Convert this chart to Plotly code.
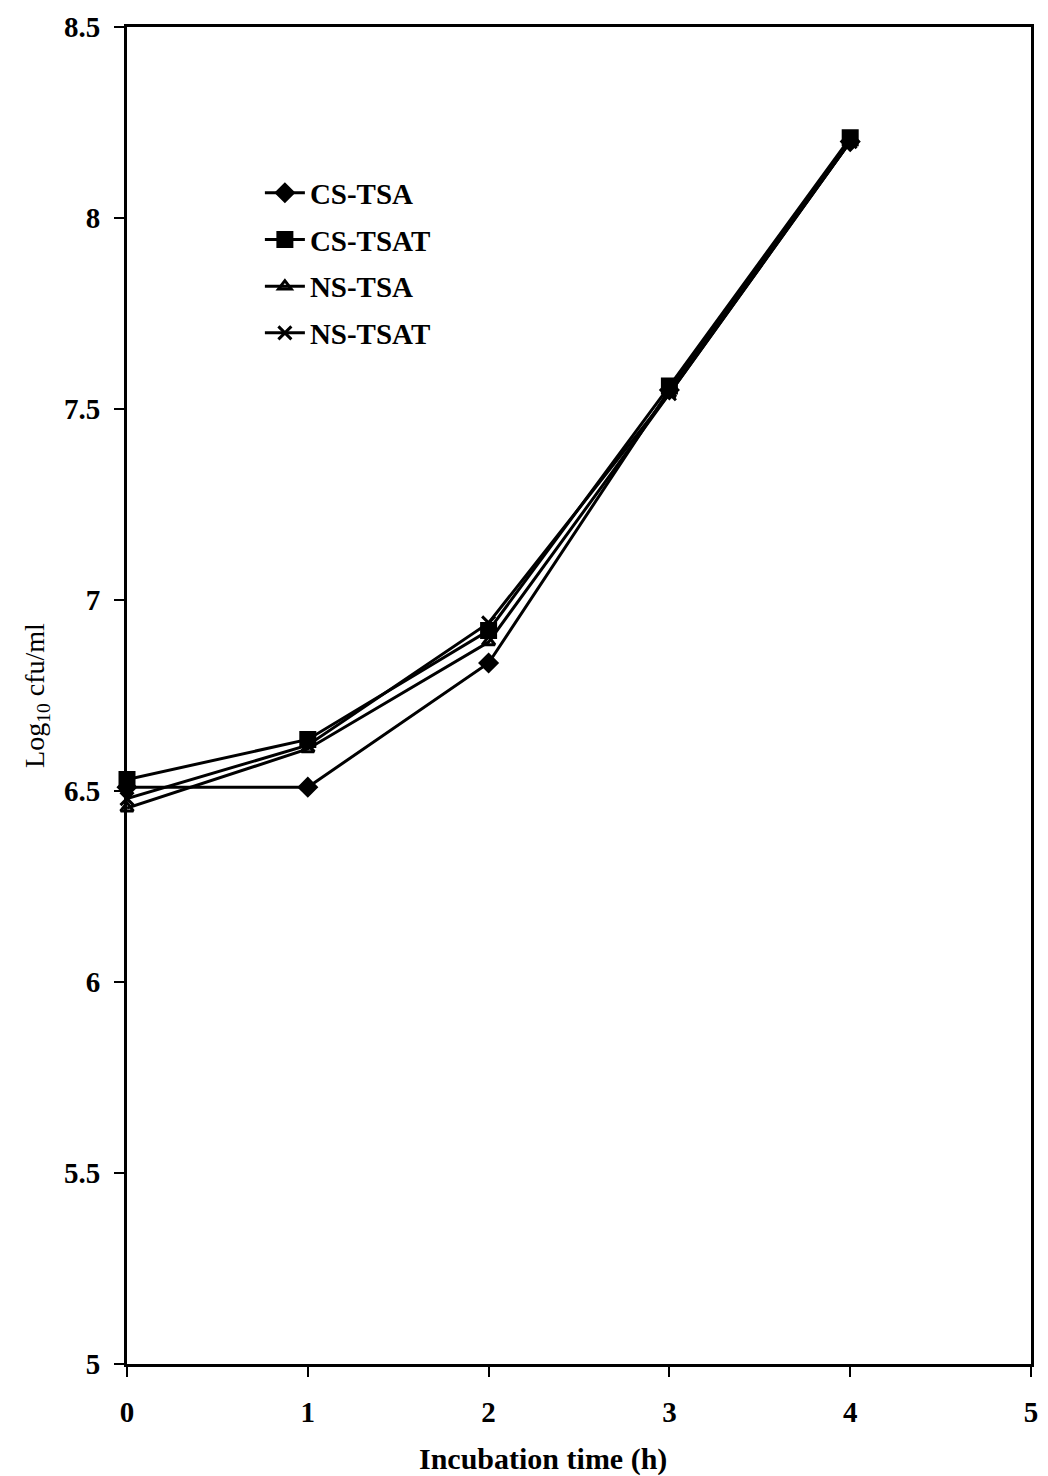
import plotly.graph_objects as go

# Incubation time (h)
hours = [0, 1, 2, 3, 4]

# Log10 cfu/ml for each medium / stress treatment
cs_tsa = [6.51, 6.51, 6.835, 7.55, 8.20]
cs_tsat = [6.53, 6.635, 6.92, 7.56, 8.21]
ns_tsa = [6.455, 6.61, 6.89, 7.54, 8.20]
ns_tsat = [6.48, 6.62, 6.94, 7.54, 8.20]

series_names = ["CS-TSA", "CS-TSAT", "NS-TSA", "NS-TSAT"]
series_values = [cs_tsa, cs_tsat, ns_tsa, ns_tsat]
symbols = ["diamond", "square", "triangle-up-open", "x-thin-open"]
marker_sizes = [13, 14, 11, 13]

y_ticks = [5, 5.5, 6, 6.5, 7, 7.5, 8, 8.5]
y_tick_text = ["5", "5.5", "6", "6.5", "7", "7.5", "8", "8.5"]
x_ticks = [0, 1, 2, 3, 4, 5]

fig = go.Figure()
for i, (name, vals) in enumerate(zip(series_names, series_values)):
    fig.add_trace(go.Scatter(
        x=hours, y=vals, name=name, mode="lines+markers",
        line=dict(color="black", width=3),
        marker=dict(symbol=symbols[i], size=marker_sizes[i], color="black",
                    line=dict(color="black", width=3)),
        legendgroup=name, cliponaxis=False,
    ))

serif = "Liberation Serif, Times New Roman, serif"

fig.update_layout(
    width=1048, height=1476,
    margin=dict(l=127, r=10, t=27, b=112),
    paper_bgcolor="white", plot_bgcolor="white",
    font=dict(family=serif, color="black"),
    showlegend=True,
    legend=dict(
        x=0.147, y=0.895, xanchor="left", yanchor="top",
        bgcolor="rgba(0,0,0,0)", borderwidth=0,
        font=dict(family=serif, size=29, color="black", weight="bold"),
        tracegroupgap=6, itemwidth=40,
    ),
    xaxis=dict(
        range=[0, 5], tickvals=x_ticks,
        showgrid=False, zeroline=False,
        showline=True, linecolor="black", linewidth=3, mirror=True,
        ticks="outside", ticklen=10, tickwidth=2, tickcolor="black",
        ticklabelstandoff=10,
        tickfont=dict(family=serif, size=29, color="black", weight="bold"),
    ),
    yaxis=dict(
        range=[5, 8.5], tickvals=y_ticks, ticktext=y_tick_text,
        showgrid=False, zeroline=False,
        showline=True, linecolor="black", linewidth=3, mirror=True,
        ticks="outside", ticklen=10, tickwidth=2, tickcolor="black",
        ticklabelstandoff=8,
        tickfont=dict(family=serif, size=29, color="black", weight="bold"),
        title=dict(text="Log<sub>10</sub> cfu/ml", standoff=12,
                   font=dict(family=serif, size=28, color="black")),
    ),
    annotations=[dict(
        text="Incubation time (h)", xref="paper", yref="paper",
        x=0.46, y=-0.071, xanchor="center", yanchor="middle",
        showarrow=False,
        font=dict(family=serif, size=30, color="black", weight="bold"),
    )],
)

fig.write_html("out.html")
